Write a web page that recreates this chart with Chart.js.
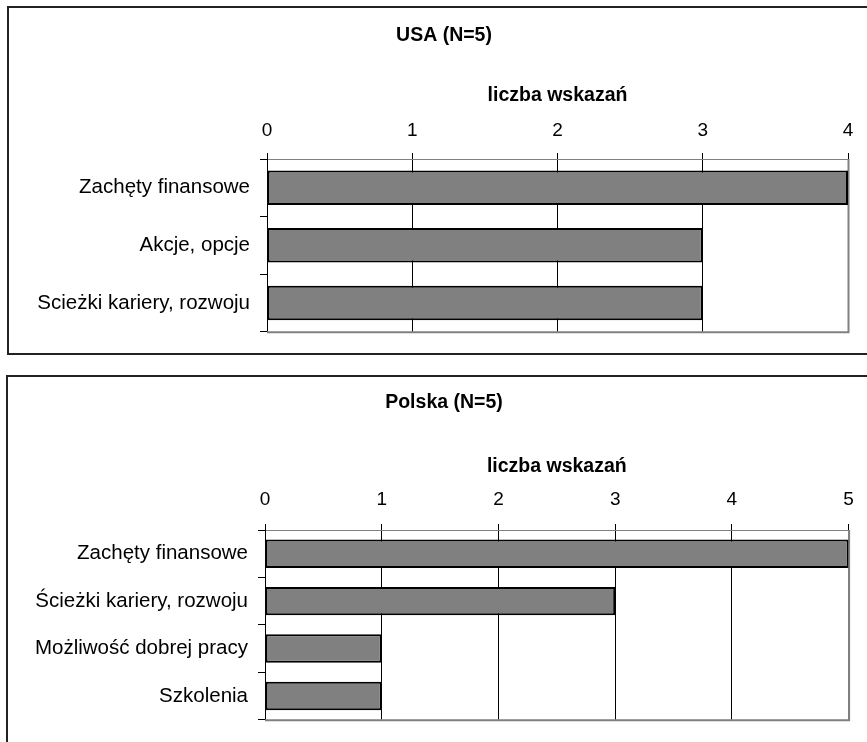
<!DOCTYPE html>
<html><head><meta charset="utf-8">
<script src="https://cdn.jsdelivr.net/npm/chart.js@4"></script>
<style>
html,body{margin:0;padding:0;background:#fff;width:867px;height:742px;overflow:hidden;position:relative}
.box{position:absolute;border:2px solid #222;box-sizing:border-box}
canvas{position:absolute;left:0}
</style></head><body>
<div class="box" style="left:7px;top:6px;width:900px;height:349px"></div>
<div class="box" style="left:6px;top:375px;width:900px;height:400px"></div>
<canvas id="c1" width="867" height="354" style="top:0"></canvas>
<canvas id="c2" width="867" height="382" style="top:360px"></canvas>
<script>
const axisTitle = 'liczba wskazań';

const usaTitle = 'USA (N=5)';
const usaCategories = ['Zachęty finansowe', 'Akcje, opcje', 'Scieżki kariery, rozwoju'];
const usaValues = [4, 3, 3];
const usaTicks = [0, 1, 2, 3, 4];

const plTitle = 'Polska (N=5)';
const plCategories = ['Zachęty finansowe', 'Ścieżki kariery, rozwoju', 'Możliwość dobrej pracy', 'Szkolenia'];
const plValues = [5, 3, 1, 1];
const plTicks = [0, 1, 2, 3, 4, 5];

const FONT = "'Liberation Sans', Arial, sans-serif";

const frame = {
  id: 'frame',
  afterLayout(chart) {
    // centre the chart title over the whole bordered box rather than the label+plot span
    const tb = chart.titleBlock;
    const cx = chart.options.plugins.frame.titleCenter;
    if (tb && cx) { tb.left = 2 * cx - tb.right; }
  },
  beforeDatasetsDraw(chart) {
    const {ctx, chartArea: a} = chart;
    ctx.save();
    ctx.strokeStyle = '#808080';
    ctx.lineWidth = 2;
    ctx.beginPath();
    ctx.moveTo(a.left, a.bottom + 0.5);
    ctx.lineTo(a.right + 0.5, a.bottom + 0.5);
    ctx.lineTo(a.right + 0.5, a.top);
    ctx.stroke();
    ctx.restore();
  }
};

function makeChart(id, title, cats, vals, ticks, g) {
  return new Chart(document.getElementById(id), {
    type: 'bar',
    data: {
      labels: cats,
      datasets: [{
        data: vals,
        backgroundColor: '#808080',
        borderColor: '#000',
        borderWidth: 2,
        borderSkipped: false,
        barPercentage: 0.6,
        categoryPercentage: 1
      }]
    },
    options: {
      indexAxis: 'y',
      responsive: false,
      animation: false,
      events: [],
      layout: {padding: {left: 0, right: g.padR, top: 0, bottom: g.padB}},
      plugins: {
        legend: {display: false},
        tooltip: {enabled: false},
        frame: {titleCenter: g.titleCenter},
        title: {
          display: true, text: title, color: '#000',
          font: {family: FONT, size: 19.5, weight: 'bold'},
          padding: {top: g.titleTop, bottom: 10}
        }
      },
      scales: {
        x: {
          position: 'top',
          min: ticks[0],
          max: ticks[ticks.length - 1],
          afterBuildTicks(s) { s.ticks = ticks.map(v => ({value: v})); },
          afterFit(s) { s.height = g.xH; },
          ticks: {color: '#000', padding: g.tickPad, maxRotation: 0, font: {family: FONT, size: 19}},
          grid: {
            color: c => (c.index === ticks.length - 1 ? '#808080' : '#000'),
            tickColor: '#000',
            lineWidth: 1,
            tickLength: 6,
            drawTicks: true
          },
          border: {display: true, color: '#808080', width: 1},
          title: {
            display: true, text: axisTitle, color: '#000',
            font: {family: FONT, size: 19.5, weight: 'bold'},
            padding: {top: g.axisTitleTop, bottom: 0}
          }
        },
        y: {
          afterFit(s) { s.width = g.yW; },
          ticks: {color: '#000', padding: 10, font: {family: FONT, size: 20.5}},
          grid: {offset: true, drawOnChartArea: false, color: '#000', tickLength: 7},
          border: {display: true, color: '#000', width: 1}
        }
      }
    },
    plugins: [frame]
  });
}

makeChart('c1', usaTitle, usaCategories, usaValues, usaTicks,
  {titleCenter: 444, padR: 19, padB: 21, titleTop: 24.3, xH: 101.3, axisTitleTop: 26.6, tickPad: 11.1, yW: 267});
makeChart('c2', plTitle, plCategories, plValues, plTicks,
  {titleCenter: 444, padR: 18, padB: 16, titleTop: 31.3, xH: 105.3, axisTitleTop: 30.1, tickPad: 13.1, yW: 265});
</script>
</body></html>
